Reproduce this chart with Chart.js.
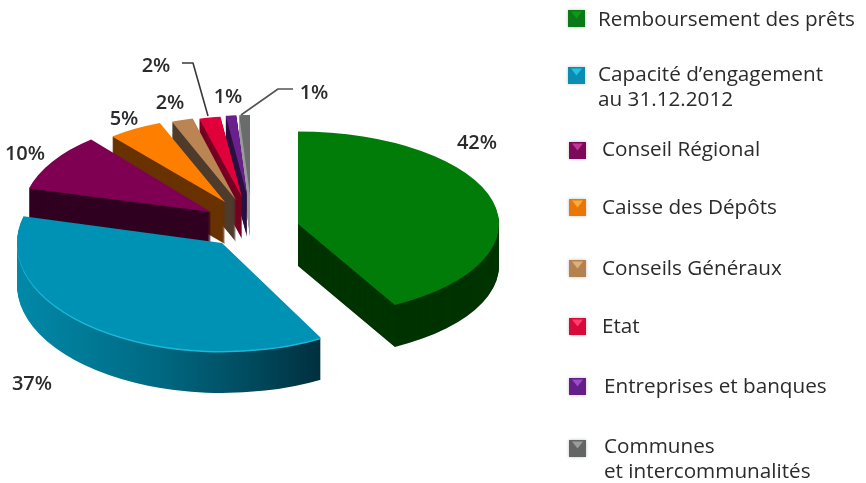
<!DOCTYPE html>
<html lang="fr">
<head>
<meta charset="utf-8">
<style>
html,body{margin:0;padding:0;background:#fff}
#wrap{position:relative;width:866px;height:483px;overflow:hidden}
</style>
<script src="https://cdn.jsdelivr.net/npm/chart.js@4/dist/chart.umd.min.js"></script>
</head>
<body>
<div id="wrap"><canvas id="c" width="866" height="483"></canvas></div>
<script>
const categories = ["Remboursement des prêts","Capacité d’engagement au 31.12.2012","Conseil Régional","Caisse des Dépôts","Conseils Généraux","Etat","Entreprises et banques","Communes et intercommunalités"];
const shares = [42,37,10,5,2,2,1,1];
const topColors = ["#027c09","#0092b4","#7f0052","#fe7f00","#bb8453","#e0003a","#6b1f8c","#6a6c6c"];
const wallColors = ["#013301",null,"#300020","#693300","#4e3b2b","#750022","#2b1140","#9a9c9c"];
const swatchLight = ["#0f9a16","#22c4e6","#c0369a","#ffab3c","#dfaf7c","#ff3f70","#9a4dc4","#9a9c9c"];
const swatchBase = ["#0a7a18","#0a8db0","#7d0a58","#e87708","#b3824f","#d80a3c","#641f88","#636565"];

/* pie drawing style: how far each slice is pulled out, its radius and its flattening */
const explodeX = [43,-33,-44,-30,-19,-13,-8,-5];
const explodeY = [9,28,-3,-13,-15,-18,-20,-20];
const sliceRadius = [201,205,188,177,174,172,170,172];
const sliceTilt = [0.46,0.527,0.5,0.48,0.483,0.47,0.47,0.465];
const sliceDepth = 42;

/* label placement */
const pctX = [477,32,25,124,170,156,228,314];
const pctY = [143,384,154,119,103,66,97,93];
const leaderA = [[182,63],[193,63],[208,116]];
const leaderB = [[293,89],[278,89],[241,115]];

/* legend placement */
const legendLines = [["Remboursement des prêts"],["Capacité d’engagement","au 31.12.2012"],["Conseil Régional"],["Caisse des Dépôts"],["Conseils Généraux"],["Etat"],["Entreprises et banques"],["Communes","et intercommunalités"]];
const legendTextX = [598,598,602,602,602,602,604,604];
const legendBaseline = [26,81,156,214,275,333,393,453];
const legendLineGap = 25;
const swatchX = [568,568,569,569,569,569,569,569];
const swatchY = [10,67,142,199,260,318,378,440];
const swatchSize = 17;

const textFont = '"Open Sans", sans-serif';

const pie3d = {
  id:'pie3d',
  afterDatasetsUpdate(chart){
    chart.getDatasetMeta(0).data.forEach((arc,i)=>{
      arc.x += explodeX[i];
      arc.y += explodeY[i];
      arc.outerRadius = sliceRadius[i];
      arc.innerRadius = 0;
    });
  },
  beforeDatasetsDraw(chart){
    const ctx = chart.ctx, arcs = chart.getDatasetMeta(0).data;
    const paint = (arc,i,dy,fill)=>{
      const saved = arc.options;
      arc.options = {backgroundColor:fill,borderColor:fill,borderWidth:0,offset:0,spacing:0,borderAlign:'center',circular:true,borderRadius:0};
      ctx.save();
      ctx.translate(arc.x,arc.y+dy);
      ctx.scale(1,sliceTilt[i]);
      ctx.translate(-arc.x,-arc.y);
      arc.draw(ctx);
      ctx.restore();
      arc.options = saved;
    };
    /* back to front: small slices first, then the big ones */
    [7,6,5,4,3,2,1,0].forEach(i=>{
      const arc = arcs[i];
      let wall = wallColors[i];
      if(i===1){
        wall = ctx.createLinearGradient(18,0,322,0);
        wall.addColorStop(0,"#0089a8");
        wall.addColorStop(0.45,"#006a84");
        wall.addColorStop(0.75,"#004c60");
        wall.addColorStop(1,"#002f3e");
      }
      for(let d=sliceDepth;d>=1;d--) paint(arc,i,d,wall);
      if(i===1) paint(arc,i,1.5,"#1cb8da");
      paint(arc,i,0,topColors[i]);
    });
    return false;
  },
  afterDraw(chart){
    const ctx = chart.ctx;
    ctx.save();
    /* leader lines */
    ctx.lineWidth = 1.6; ctx.lineJoin='round';
    [leaderA,leaderB].forEach((l,k)=>{
      ctx.strokeStyle = k? "#555":"#3a3a3a";
      ctx.beginPath();
      l.forEach((p,j)=> j? ctx.lineTo(p[0],p[1]) : ctx.moveTo(p[0],p[1]));
      ctx.stroke();
    });
    /* percent labels */
    ctx.fillStyle = "#2b2b2d";
    ctx.font = '600 20px '+textFont;
    ctx.textAlign='center'; ctx.textBaseline='middle';
    shares.forEach((v,i)=> ctx.fillText(v+"%",pctX[i],pctY[i]));
    /* legend */
    ctx.textAlign='left'; ctx.textBaseline='alphabetic';
    ctx.font = '20.7px '+textFont;
    legendLines.forEach((lines,i)=>{
      const x=swatchX[i], y=swatchY[i], s=swatchSize;
      ctx.save();
      ctx.shadowColor='rgba(0,0,0,0.25)'; ctx.shadowBlur=3;
      ctx.fillStyle=swatchBase[i]; ctx.fillRect(x,y,s,s);
      ctx.restore();
      ctx.fillStyle=swatchLight[i];
      ctx.beginPath(); ctx.moveTo(x+3,y+1.5); ctx.lineTo(x+s-3,y+1.5); ctx.lineTo(x+s/2,y+s*0.5); ctx.closePath(); ctx.fill();
      ctx.fillStyle="#2b2b2d";
      lines.forEach((t,j)=> ctx.fillText(t,legendTextX[i],legendBaseline[i]+j*legendLineGap));
    });
    ctx.restore();
  }
};

new Chart(document.getElementById('c'),{
  type:'pie',
  data:{labels:categories,datasets:[{data:shares,backgroundColor:topColors,borderWidth:0}]},
  options:{
    responsive:false,
    animation:false,
    devicePixelRatio:1,
    layout:{padding:{left:0,top:0,right:356,bottom:53}},
    plugins:{legend:{display:false},tooltip:{enabled:false}}
  },
  plugins:[pie3d]
});
</script>
</body>
</html>
